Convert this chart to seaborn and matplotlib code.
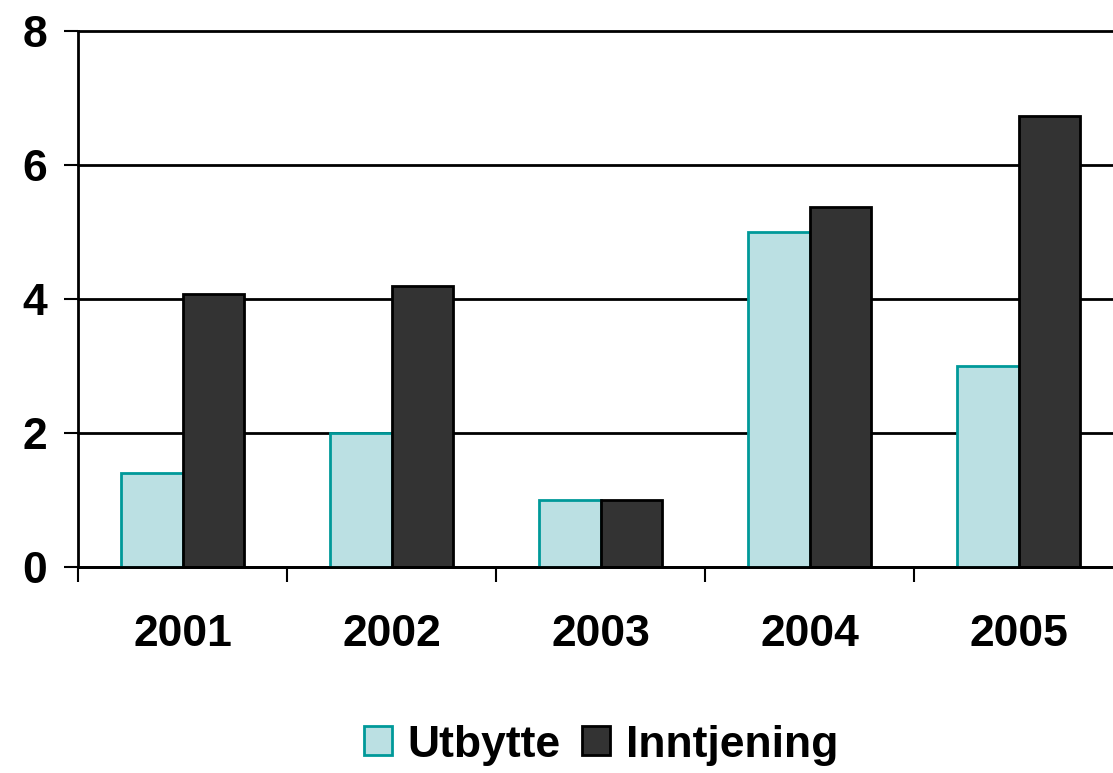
import matplotlib
matplotlib.use("Agg")
import matplotlib.pyplot as plt
import seaborn as sns
import pandas as pd
from matplotlib.ticker import FixedLocator

years = ["2001", "2002", "2003", "2004", "2005"]
utbytte = [1.4, 2.0, 1.0, 5.0, 3.0]
inntjening = [4.07, 4.19, 1.0, 5.37, 6.73]
series_names = ["Utbytte", "Inntjening"]
fill_colors = ["#BBE0E3", "#333333"]
edge_colors = ["#009999", "#000000"]

df = pd.DataFrame({
    "year": years * 2,
    "value": utbytte + inntjening,
    "series": [series_names[0]] * len(years) + [series_names[1]] * len(years),
})

sns.set_theme(style="white")
plt.rcParams["font.family"] = ["Liberation Sans", "DejaVu Sans"]
plt.rcParams["font.weight"] = "bold"
plt.rcParams["text.color"] = "black"
plt.rcParams["xtick.color"] = "black"
plt.rcParams["ytick.color"] = "black"

fig = plt.figure(figsize=(11.13, 7.73), dpi=100)
ax = fig.add_axes([78 / 1113, 1 - 567 / 773, 1045 / 1113, (567 - 31) / 773])

sns.barplot(data=df, x="year", y="value", hue="series", order=years,
            hue_order=series_names, palette=fill_colors, width=0.59,
            gap=0, ax=ax, legend=True, saturation=1)

for cont, ec in zip(ax.containers, edge_colors):
    for p in cont.patches:
        p.set_edgecolor(ec)
        p.set_linewidth(2)

ax.set_ylim(0, 8)
ax.set_xlim(-0.5, 4.5)
ax.set_yticks([0, 2, 4, 6, 8])
ax.yaxis.grid(True, color="black", linewidth=2)
ax.xaxis.grid(False)
ax.set_axisbelow(True)
ax.set_xlabel("")
ax.set_ylabel("")
for gl in ax.yaxis.get_gridlines():
    gl.set_clip_on(False)

for side in ["top", "right"]:
    ax.spines[side].set_visible(False)
for side in ["left", "bottom"]:
    ax.spines[side].set_visible(True)
    ax.spines[side].set_color("black")
    ax.spines[side].set_linewidth(2)

ax.tick_params(axis="y", which="major", left=True, length=10, width=1.5,
               color="black", pad=12, labelsize=32, labelcolor="black")
ax.tick_params(axis="x", which="major", bottom=False, length=0, pad=34,
               labelsize=32, labelcolor="black")
ax.xaxis.set_minor_locator(FixedLocator([-0.5, 0.5, 1.5, 2.5, 3.5, 4.5]))
ax.tick_params(axis="x", which="minor", bottom=True, length=11, width=1.5,
               color="black", direction="out")
for lbl in ax.get_xticklabels() + ax.get_yticklabels():
    lbl.set_fontweight("bold")
    lbl.set_color("black")

handles, labels = ax.get_legend_handles_labels()
ax.get_legend().remove()
for h, ec in zip(handles, edge_colors):
    h.set_edgecolor(ec)
    h.set_linewidth(2)
fig.legend(handles, labels, loc="center", bbox_to_anchor=(601 / 1113, 1 - 745 / 773),
           ncol=2, frameon=False, prop={"size": 32, "weight": "bold"},
           labelcolor="black",
           handlelength=0.62, handleheight=0.62, handletextpad=0.35,
           columnspacing=0.5)

fig.savefig("out.png", dpi=100)
